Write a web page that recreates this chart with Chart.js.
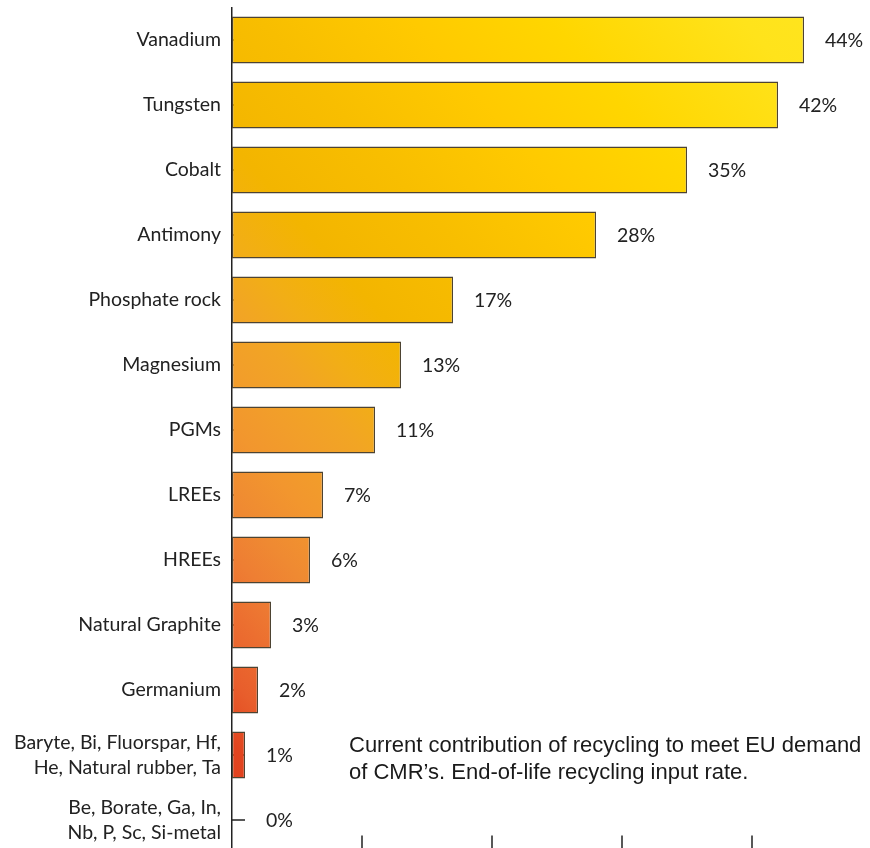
<!DOCTYPE html>
<html>
<head>
<meta charset="utf-8">
<script src="https://cdn.jsdelivr.net/npm/chart.js@4"></script>
<style>
  html, body { margin: 0; padding: 0; background: #fff; }
  body { width: 870px; height: 848px; overflow: hidden; position: relative; }
  #wrap { position: absolute; left: 0; top: 0; width: 870px; height: 870px; }
  #note { position: absolute; left: 349px; top: 731px; font-family: "Liberation Sans", Arial, sans-serif;
          font-size: 22px; line-height: 27px; color: #1a1a1a; white-space: nowrap; }
</style>
</head>
<body>
<div id="wrap"><canvas id="recyChart" width="870" height="870"></canvas></div>
<div id="note">Current contribution of recycling to meet EU demand<br>of CMR’s. End-of-life recycling input rate.</div>
<script>
var materials = ['Vanadium', 'Tungsten', 'Cobalt', 'Antimony', 'Phosphate rock', 'Magnesium', 'PGMs',
    'LREEs', 'HREEs', 'Natural Graphite', 'Germanium',
    ['Baryte, Bi, Fluorspar, Hf,', 'He, Natural rubber, Ta'],
    ['Be, Borate, Ga, In,', 'Nb, P, Sc, Si-metal']];
var eolRate = [44, 42, 35, 28, 17, 13, 11, 7, 6, 3, 2, 1, 0];
var xTicks = [10, 20, 30, 40];

var labelFont = { family: 'Lato', size: 19.5 };

function barGradient(context) {
    var chart = context.chart;
    var area = chart.chartArea;
    if (!area) return '#f2a524';
    var ctx = chart.ctx;
    var w = area.right - area.left, h = area.bottom - area.top;
    // diagonal gradient, dark orange bottom-left to yellow top-right
    var dx = h, dy = -w * 1.16;
    var len = Math.sqrt(dx * dx + dy * dy);
    var proj = (w * dx - h * dy) / len;
    var g = ctx.createLinearGradient(area.left, area.bottom, area.left + dx / len * proj, area.bottom + dy / len * proj);
    g.addColorStop(0, '#df3a1b');
    g.addColorStop(0.07, '#e2451f');
    g.addColorStop(0.11, '#e85e2c');
    g.addColorStop(0.155, '#ec6f30');
    g.addColorStop(0.19, '#ee7e33');
    g.addColorStop(0.225, '#ef8a32');
    g.addColorStop(0.27, '#f2962e');
    g.addColorStop(0.31, '#f29e2a');
    g.addColorStop(0.35, '#f2a524');
    g.addColorStop(0.39, '#f2ae16');
    g.addColorStop(0.45, '#f3b500');
    g.addColorStop(0.55, '#f8be00');
    g.addColorStop(0.66, '#ffca00');
    g.addColorStop(0.76, '#ffd600');
    g.addColorStop(0.9, '#ffe31b');
    g.addColorStop(1, '#ffe620');
    return g;
}

var innerTicks = {
    id: 'innerTicks',
    beforeDatasetsDraw: function(chart) {
        var ctx = chart.ctx, area = chart.chartArea;
        var y = chart.scales.y, x = chart.scales.x;
        ctx.save();
        ctx.strokeStyle = '#222';
        ctx.lineWidth = 1.5;
        ctx.beginPath();
        for (var i = 0; i < materials.length; i++) {
            var py = y.getPixelForValue(i);
            ctx.moveTo(area.left, py);
            ctx.lineTo(area.left + 13, py);
        }
        xTicks.forEach(function(v) {
            var px = x.getPixelForValue(v);
            ctx.moveTo(px, area.bottom - 17);
            ctx.lineTo(px, area.bottom);
        });
        ctx.stroke();
        ctx.restore();
    }
};

var valueLabels = {
    id: 'valueLabels',
    afterDatasetsDraw: function(chart) {
        var ctx = chart.ctx, area = chart.chartArea;
        var meta = chart.getDatasetMeta(0);
        ctx.save();
        ctx.font = labelFont.size + 'px ' + labelFont.family;
        ctx.fillStyle = '#222';
        ctx.textAlign = 'left';
        ctx.textBaseline = 'middle';
        meta.data.forEach(function(bar, i) {
            var end = Math.max(bar.x, area.left + 13);
            ctx.fillText(eolRate[i] + '%', end + 21, bar.y + 1);
        });
        ctx.restore();
    }
};

var ctx = document.getElementById('recyChart').getContext('2d');
var myChart = new Chart(ctx, {
    type: 'bar',
    data: {
        labels: materials,
        datasets: [{
            data: eolRate,
            backgroundColor: barGradient,
            borderColor: '#4d4332',
            borderWidth: 1.3,
            borderSkipped: false,
            categoryPercentage: 1,
            barPercentage: 0.72
        }]
    },
    options: {
        indexAxis: 'y',
        responsive: false,
        animation: false,
        layout: { padding: { top: 7.5, bottom: 17.5, right: 1, left: 0 } },
        plugins: {
            legend: { display: false },
            tooltip: { enabled: false }
        },
        scales: {
            x: {
                display: false,
                min: 0,
                max: 49
            },
            y: {
                afterFit: function(s) {
                    s.width = 232;
                    s.paddingTop = 0;
                    s.paddingBottom = 0;
                },
                grid: { display: false, drawTicks: false },
                border: { display: true, color: '#222', width: 1.5 },
                ticks: {
                    color: '#222',
                    padding: 11,
                    font: { family: labelFont.family, size: labelFont.size, lineHeight: 1.3 }
                }
            }
        }
    },
    plugins: [innerTicks, valueLabels]
});
</script>
</body>
</html>
